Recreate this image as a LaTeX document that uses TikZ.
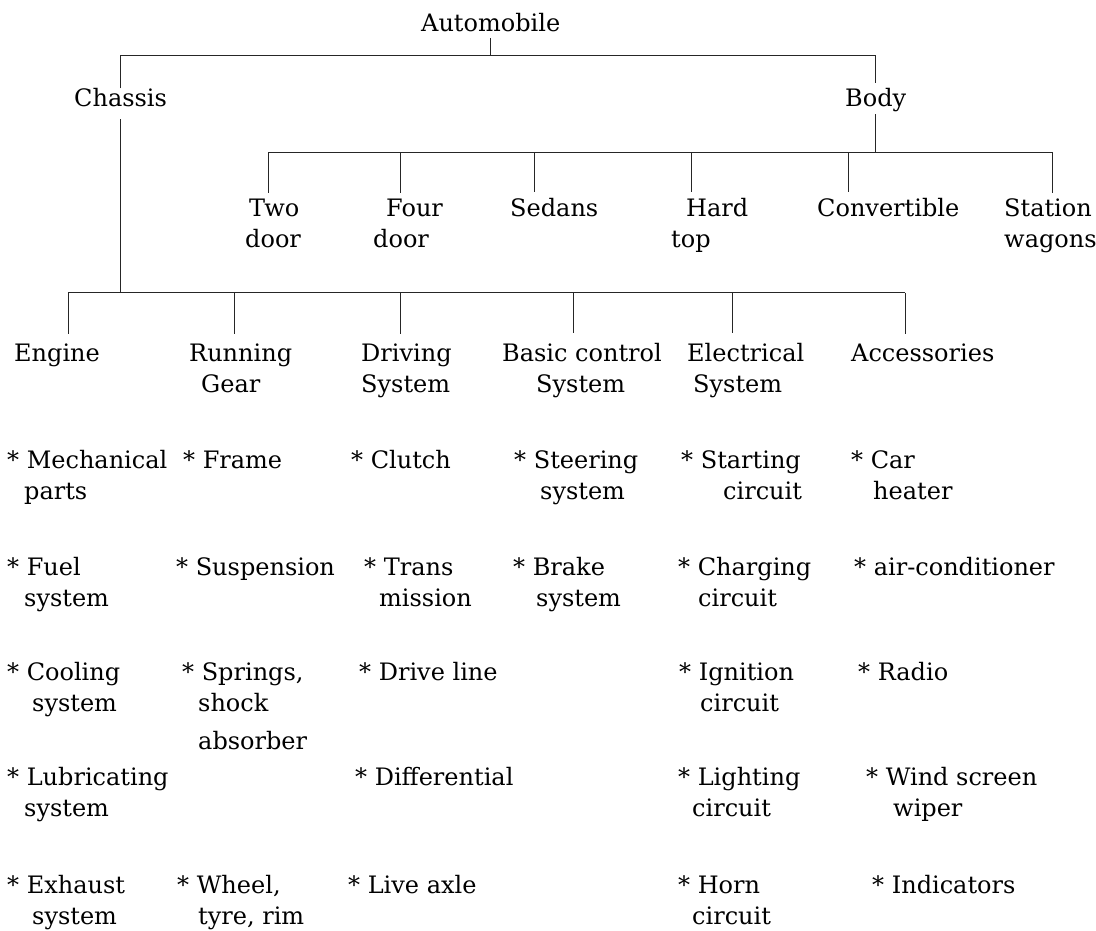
\documentclass[tikz,border=0pt]{standalone}
\usepackage{fontspec}
\setmainfont{DejaVu Serif}
\usetikzlibrary{positioning,calc}

\begin{document}
\begin{tikzpicture}[
    x=1pt, y=-1pt,
    lbl/.style={
        anchor=base west, inner sep=0pt, align=left,
        font=\fontsize{24}{31}\selectfont
    },
    l2/.style={lbl, yshift=-31pt},
    tree/.style={draw=black!85, line width=0.8pt}
]
\useasboundingbox (0,0) rectangle (1096,931);

% Top level
\node[lbl] (auto) at (421, 31.7) {Automobile};
\node[lbl] (chassis) at (74, 106.7) {Chassis};
\node[lbl] (body) at (845, 106.7) {Body};

% Body types
\node[l2] (two) at (245, 216.7) {\hspace*{4pt}Two\\door};
\node[l2] (four) at (373, 216.7) {\hspace*{13pt}Four\\door};
\node[lbl] (sedans) at (510, 216.7) {Sedans};
\node[l2] (hardtop) at (671, 216.7) {\hspace*{15pt}Hard\\top};
\node[lbl] (convertible) at (817, 216.7) {Convertible};
\node[l2] (station) at (1004, 216.7) {Station\\wagons};

% Chassis groups
\node[lbl] (engine) at (14, 361.7) {Engine};
\node[l2] (running) at (189, 361.7) {Running\\\hspace*{12pt}Gear};
\node[l2] (driving) at (361, 361.7) {Driving\\System};
\node[l2] (basic) at (502, 361.7) {Basic control\\\hspace*{34pt}System};
\node[l2] (electrical) at (687, 361.7) {Electrical\\\hspace*{6pt}System};
\node[lbl] (accessories) at (851, 361.7) {Accessories};

% Items - row 1
\node[l2] (mech) at (7, 468) {* Mechanical\\\hspace*{17pt}parts};
\node[lbl] (frame) at (183, 468) {* Frame};
\node[lbl] (clutch) at (351, 468) {* Clutch};
\node[l2] (steering) at (514, 468) {* Steering\\\hspace*{26pt}system};
\node[l2] (starting) at (681, 468) {* Starting\\\hspace*{42pt}circuit};
\node[l2] (heater) at (851, 468) {* Car\\\hspace*{22pt}heater};

% Items - row 2
\node[l2] (fuel) at (7, 575) {* Fuel\\\hspace*{17pt}system};
\node[lbl] (suspension) at (176, 575) {* Suspension};
\node[l2] (trans) at (364, 575) {* Trans\\\hspace*{15pt}mission};
\node[l2] (brake) at (513, 575) {* Brake\\\hspace*{23pt}system};
\node[l2] (charging) at (678, 575) {* Charging\\\hspace*{20pt}circuit};
\node[lbl] (aircon) at (854, 575) {* air-conditioner};

% Items - row 3
\node[l2] (cooling) at (7, 680) {* Cooling\\\hspace*{25pt}system};
\node[lbl, yshift=-69pt] (springs) at (182, 680) {* Springs,\\\hspace*{16pt}shock\\[7pt]\hspace*{16pt}absorber};
\node[lbl] (driveline) at (359, 680) {* Drive line};
\node[l2] (ignition) at (679, 680) {* Ignition\\\hspace*{21pt}circuit};
\node[lbl] (radio) at (858, 680) {* Radio};

% Items - row 4
\node[l2] (lubricating) at (7, 785) {* Lubricating\\\hspace*{17pt}system};
\node[lbl] (differential) at (355, 785) {* Differential};
\node[l2] (lighting) at (678, 785) {* Lighting\\\hspace*{14pt}circuit};
\node[l2] (wiper) at (866, 785) {* Wind screen\\\hspace*{27pt}wiper};

% Items - row 5
\node[l2] (exhaust) at (7, 893) {* Exhaust\\\hspace*{25pt}system};
\node[l2] (wheel) at (177, 893) {* Wheel,\\\hspace*{21pt}tyre, rim};
\node[lbl] (liveaxle) at (348, 893) {* Live axle};
\node[l2] (horn) at (678, 893) {* Horn\\\hspace*{14pt}circuit};
\node[lbl] (indicators) at (872, 893) {* Indicators};

% Tree lines - top
\coordinate (topbus) at (0, 55.7);
\draw[tree, shorten <=6pt] (auto.south) -- (auto.south |- topbus);
\draw[tree, shorten >=5pt] (chassis.north) -- (chassis.north |- topbus)
    -- (body.north |- topbus) -- (body.north);

% Tree lines - body
\foreach \n/\x in {two/268.7, four/400, sedans/534, hardtop/691, convertible/848, station/1052} {
    \coordinate (d-\n) at (\x, 152.3);
    \draw[tree, shorten >=6pt] (d-\n) -- (d-\n |- \n.north);
}
\draw[tree] (d-two) -- (d-station);
\draw[tree, shorten <=2pt] (body.south) -- (body.south |- d-two);

% Tree lines - chassis
\foreach \n/\x in {engine/67.9, running/234.6, driving/400, basic/573.3, electrical/732.6, accessories/905.2} {
    \coordinate (d-\n) at (\x, 292.7);
    \draw[tree, shorten >=10pt] (d-\n) -- (d-\n |- \n.north);
}
\draw[tree] (d-engine) -- (d-accessories);
\draw[tree, shorten <=12pt] (chassis.south) -- (chassis.south |- d-engine);

\end{tikzpicture}
\end{document}
